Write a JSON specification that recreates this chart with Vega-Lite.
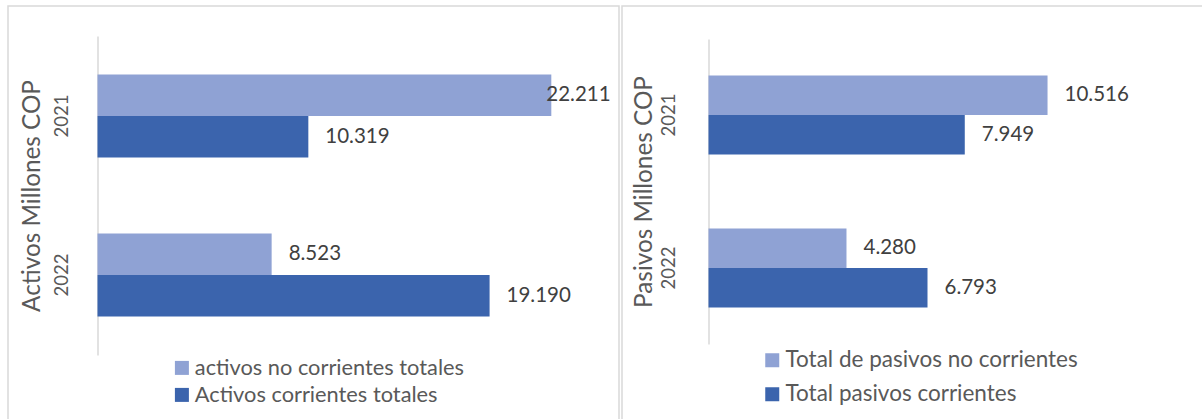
{
  "$schema": "https://vega.github.io/schema/vega-lite/v6.json",
  "padding": {"left": 7, "top": 5, "right": 0, "bottom": 0},
  "spacing": 1,
  "background": "white",
  "config": {
    "locale": {"number": {"decimal": ",", "thousands": ".", "grouping": [3], "currency": ["$", ""]}},
    "font": "Lato",
    "view": {"stroke": "#d9d9d9", "strokeWidth": 1.5}
  },
  "datasets": {
    "activos": [
      {"anio": "2021", "serie": "activos no corrientes totales", "valor": 22211},
      {"anio": "2021", "serie": "Activos corrientes totales", "valor": 10319},
      {"anio": "2022", "serie": "activos no corrientes totales", "valor": 8523},
      {"anio": "2022", "serie": "Activos corrientes totales", "valor": 19190}
    ],
    "pasivos": [
      {"anio": "2021", "serie": "Total de pasivos no corrientes", "valor": 10516},
      {"anio": "2021", "serie": "Total pasivos corrientes", "valor": 7949},
      {"anio": "2022", "serie": "Total de pasivos no corrientes", "valor": 4280},
      {"anio": "2022", "serie": "Total pasivos corrientes", "valor": 6793}
    ]
  },
  "hconcat": [
    {
      "width": 611,
      "height": 415,
      "data": {"name": "activos"},
      "encoding": {
        "y": {
          "field": "anio", "type": "nominal",
          "scale": {"range": [30, 349], "paddingInner": 0.478, "paddingOuter": 0.242, "align": 0.5},
          "axis": {
            "title": "Activos Millones COP", "offset": -89.5,
            "domainColor": "#d9d9d9", "domainWidth": 1.5, "ticks": false, "tickSize": 0,
            "labelAngle": 270, "labelAlign": "center", "labelBaseline": "bottom",
            "labelPadding": 26, "labelFontSize": 18.5, "labelColor": "#595959",
            "titleFontSize": 24.3, "titleFontWeight": "normal", "titleColor": "#595959", "titlePadding": 8
          }
        },
        "yOffset": {
          "field": "serie", "type": "nominal",
          "scale": {"domain": ["activos no corrientes totales", "Activos corrientes totales"], "paddingInner": 0, "paddingOuter": 0}
        },
        "x": {
          "field": "valor", "type": "quantitative",
          "scale": {"domain": [0, 25000], "range": [89.5, 600.3], "nice": false, "zero": true},
          "axis": null
        }
      },
      "layer": [
        {
          "mark": {"type": "bar"},
          "encoding": {
            "color": {
              "field": "serie", "type": "nominal",
              "scale": {"domain": ["activos no corrientes totales", "Activos corrientes totales"], "range": ["#8FA2D4", "#3B64AD"]},
              "legend": {
                "orient": "none", "legendX": 163, "legendY": 351, "title": null,
                "symbolType": "square", "symbolSize": 196, "symbolStrokeWidth": 0,
                "labelFontSize": 21.8, "labelColor": "#595959", "labelLimit": 0, "rowPadding": 4, "labelOffset": 2, "padding": 0
              }
            }
          }
        },
        {
          "transform": [{"filter": "datum.valor < 20000"}],
          "mark": {"type": "text", "align": "left", "baseline": "middle", "dx": 17, "fontSize": 20.5, "color": "#404040"},
          "encoding": {"text": {"field": "valor", "type": "quantitative", "format": ",.0f"}}
        },
        {
          "transform": [{"filter": "datum.valor >= 20000"}],
          "mark": {"type": "text", "align": "left", "baseline": "middle", "dx": -5, "fontSize": 20.5, "color": "#404040"},
          "encoding": {"text": {"field": "valor", "type": "quantitative", "format": ",.0f"}}
        }
      ]
    },
    {
      "width": 600,
      "height": 415,
      "data": {"name": "pasivos"},
      "encoding": {
        "y": {
          "field": "anio", "type": "nominal",
          "scale": {"range": [33, 338], "paddingInner": 0.484, "paddingOuter": 0.239, "align": 0.5},
          "axis": {
            "title": "Pasivos Millones COP", "offset": -86.5,
            "domainColor": "#d9d9d9", "domainWidth": 1.5, "ticks": false, "tickSize": 0,
            "labelAngle": 270, "labelAlign": "center", "labelBaseline": "bottom",
            "labelPadding": 30, "labelFontSize": 18.5, "labelColor": "#595959",
            "titleFontSize": 24.3, "titleFontWeight": "normal", "titleColor": "#595959", "titlePadding": 3
          }
        },
        "yOffset": {
          "field": "serie", "type": "nominal",
          "scale": {"domain": ["Total de pasivos no corrientes", "Total pasivos corrientes"], "paddingInner": 0, "paddingOuter": 0}
        },
        "x": {
          "field": "valor", "type": "quantitative",
          "scale": {"domain": [0, 15000], "range": [86.5, 570.1], "nice": false, "zero": true},
          "axis": null
        }
      },
      "layer": [
        {
          "mark": {"type": "bar"},
          "encoding": {
            "color": {
              "field": "serie", "type": "nominal",
              "scale": {"domain": ["Total de pasivos no corrientes", "Total pasivos corrientes"], "range": ["#8FA2D4", "#3B64AD"]},
              "legend": {
                "orient": "none", "legendX": 139, "legendY": 343, "title": null,
                "symbolType": "square", "symbolSize": 196, "symbolStrokeWidth": 0,
                "labelFontSize": 22.5, "labelColor": "#595959", "labelLimit": 0, "rowPadding": 11, "labelOffset": 2, "padding": 0
              }
            }
          }
        },
        {
          "mark": {"type": "text", "align": "left", "baseline": "middle", "dx": 17, "fontSize": 20.5, "color": "#404040"},
          "encoding": {"text": {"field": "valor", "type": "quantitative", "format": ",.0f"}}
        }
      ]
    }
  ],
  "resolve": {
    "scale": {"color": "independent", "x": "independent", "y": "independent", "yOffset": "independent"},
    "legend": {"color": "independent"}
  }
}
